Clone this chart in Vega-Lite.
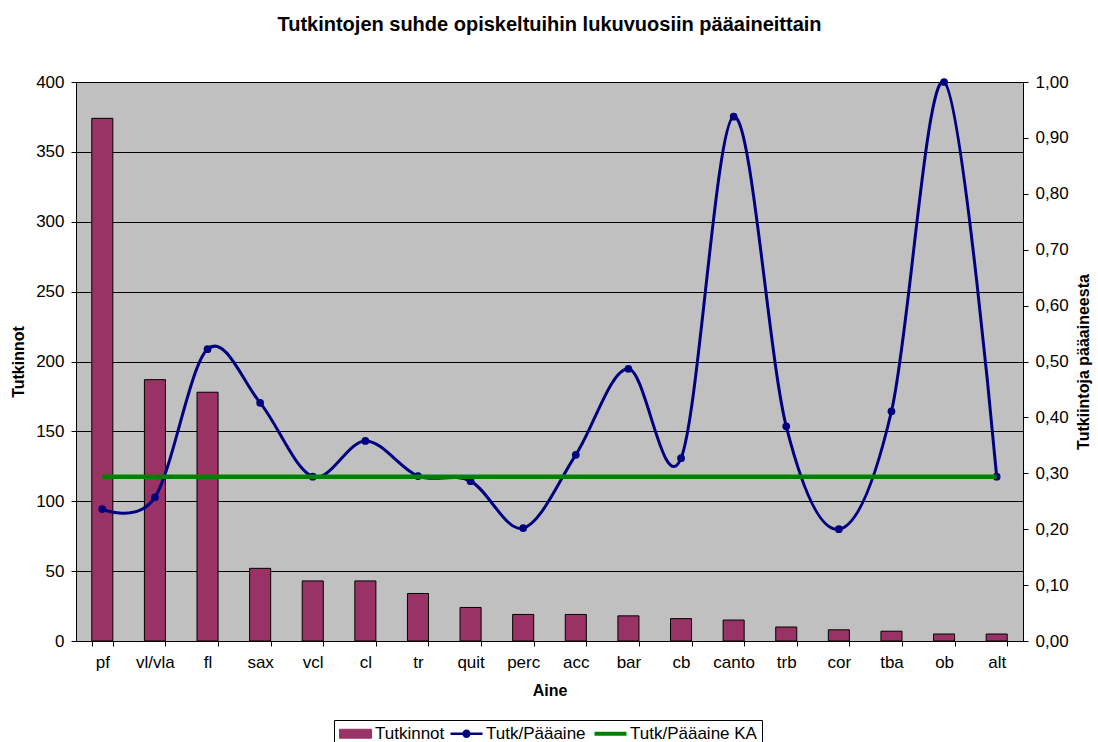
{
  "$schema": "https://vega.github.io/schema/vega-lite/v6.json",
  "width": 947,
  "height": 559,
  "autosize": {"type": "none"},
  "padding": {"left": 76, "top": 82, "right": 75, "bottom": 101},
  "background": "white",
  "title": {
    "text": "Tutkintojen suhde opiskeltuihin lukuvuosiin pääaineittain",
    "font": "Liberation Sans",
    "fontSize": 20,
    "fontWeight": "bold",
    "color": "black",
    "anchor": "middle",
    "frame": "group",
    "offset": 38
  },
  "config": {
    "font": "Liberation Sans",
    "view": {"fill": "#C0C0C0", "stroke": "#808080", "strokeWidth": 1},
    "axis": {
      "labelFont": "Liberation Sans",
      "labelFontSize": 17,
      "labelColor": "black",
      "titleFont": "Liberation Sans",
      "titleFontSize": 16,
      "titleFontWeight": "bold",
      "titleColor": "black",
      "domainColor": "black",
      "tickColor": "black",
      "tickSize": 5
    },
    "legend": {
      "orient": "none",
      "legendX": 258,
      "legendY": 638,
      "direction": "horizontal",
      "strokeColor": "black",
      "fillColor": "white",
      "padding": 5,
      "labelFont": "Liberation Sans",
      "labelFontSize": 17,
      "labelColor": "black",
      "labelOffset": 4,
      "columnPadding": 0,
      "symbolSize": 1024,
      "symbolStrokeWidth": 1
    }
  },
  "data": {
    "values": [
      {"aine": "pf", "tutkinnot": 374, "ratio": 0.236, "ka": 0.294},
      {"aine": "vl/vla", "tutkinnot": 187, "ratio": 0.257, "ka": 0.294},
      {"aine": "fl", "tutkinnot": 178, "ratio": 0.522, "ka": 0.294},
      {"aine": "sax", "tutkinnot": 52, "ratio": 0.426, "ka": 0.294},
      {"aine": "vcl", "tutkinnot": 43, "ratio": 0.294, "ka": 0.294},
      {"aine": "cl", "tutkinnot": 43, "ratio": 0.358, "ka": 0.294},
      {"aine": "tr", "tutkinnot": 34, "ratio": 0.295, "ka": 0.294},
      {"aine": "quit", "tutkinnot": 24, "ratio": 0.286, "ka": 0.294},
      {"aine": "perc", "tutkinnot": 19, "ratio": 0.202, "ka": 0.294},
      {"aine": "acc", "tutkinnot": 19, "ratio": 0.333, "ka": 0.294},
      {"aine": "bar", "tutkinnot": 18, "ratio": 0.487, "ka": 0.294},
      {"aine": "cb", "tutkinnot": 16, "ratio": 0.327, "ka": 0.294},
      {"aine": "canto", "tutkinnot": 15, "ratio": 0.938, "ka": 0.294},
      {"aine": "trb", "tutkinnot": 10, "ratio": 0.384, "ka": 0.294},
      {"aine": "cor", "tutkinnot": 8, "ratio": 0.2, "ka": 0.294},
      {"aine": "tba", "tutkinnot": 7, "ratio": 0.411, "ka": 0.294},
      {"aine": "ob", "tutkinnot": 5, "ratio": 1.0, "ka": 0.294},
      {"aine": "alt", "tutkinnot": 5, "ratio": 0.294, "ka": 0.294}
    ]
  },
  "encoding": {
    "x": {
      "field": "aine",
      "type": "nominal",
      "sort": null,
      "scale": {"paddingInner": 0.6, "paddingOuter": 0.3},
      "axis": {
        "title": "Aine",
        "labelAngle": 0,
        "tickBand": "extent",
        "labelPadding": 8,
        "titleX": 473.5,
        "titleY": 49,
        "titleBaseline": "middle",
        "titleAlign": "center",
        "grid": false
      }
    }
  },
  "layer": [
    {
      "mark": {"type": "bar", "stroke": "black", "strokeWidth": 1},
      "encoding": {
        "y": {
          "field": "tutkinnot",
          "type": "quantitative",
          "scale": {"domain": [0, 400], "nice": false},
          "axis": {
            "orient": "left",
            "title": "Tutkinnot",
            "values": [0, 50, 100, 150, 200, 250, 300, 350, 400],
            "grid": true,
            "gridColor": "black",
            "gridWidth": 1,
            "gridOpacity": 1,
            "labelPadding": 7,
            "titleAngle": 270,
            "titleX": -58,
            "titleY": 279.5,
            "titleAlign": "center",
            "titleBaseline": "middle"
          }
        },
        "color": {
          "datum": "Tutkinnot",
          "scale": {
            "domain": ["Tutkinnot", "Tutk/Pääaine", "Tutk/Pääaine KA"],
            "range": ["#993366", "#000080", "#008000"]
          },
          "legend": {
            "title": null,
            "encode": {
              "symbols": {
                "update": {
                  "x": {"value": 16.5},
                  "shape": {"signal": "datum.value === 'Tutkinnot' ? 'M-1,-0.28H1V0.28H-1Z' : (datum.value === 'Tutk/Pääaine' ? 'M-1,0H1M0.18,0A0.18,0.18,0,1,1,-0.18,0A0.18,0.18,0,1,1,0.18,0Z' : 'M-1,0H1')"},
                  "fill": {"signal": "datum.value === 'Tutkinnot' ? '#993366' : (datum.value === 'Tutk/Pääaine' ? '#000080' : 'transparent')"},
                  "stroke": {"signal": "datum.value === 'Tutkinnot' ? 'black' : (datum.value === 'Tutk/Pääaine' ? '#000080' : '#008000')"},
                  "strokeWidth": {"signal": "datum.value === 'Tutkinnot' ? 1 : (datum.value === 'Tutk/Pääaine' ? 2.5 : 4)"},
                  "size": {"value": 1024},
                  "opacity": {"value": 1}
                }
              },
              "labels": {"update": {"x": {"value": 36}}}
            }
          }
        }
      }
    },
    {
      "layer": [
        {
          "mark": {"type": "line", "interpolate": "cardinal", "tension": 0, "strokeWidth": 3},
          "encoding": {
            "y": {
              "field": "ratio",
              "type": "quantitative",
              "scale": {"domain": [0, 1], "nice": false},
              "axis": {
                "orient": "right",
                "title": "Tutkiintoja pääaineesta",
                "values": [0, 0.1, 0.2, 0.3, 0.4, 0.5, 0.6, 0.7, 0.8, 0.9, 1.0],
                "labelExpr": "replace(format(datum.value, '.2f'), '.', ',')",
                "grid": false,
                "labelPadding": 7,
                "titleAngle": 270,
                "titleX": 60,
                "titleY": 279.5,
                "titleAlign": "center",
                "titleBaseline": "middle"
              }
            },
            "color": {
              "datum": "Tutk/Pääaine",
              "legend": {
                "title": null,
                "encode": {
                  "symbols": {
                    "update": {
                      "x": {"value": 16.5},
                      "shape": {"signal": "datum.value === 'Tutkinnot' ? 'M-1,-0.28H1V0.28H-1Z' : (datum.value === 'Tutk/Pääaine' ? 'M-1,0H1M0.18,0A0.18,0.18,0,1,1,-0.18,0A0.18,0.18,0,1,1,0.18,0Z' : 'M-1,0H1')"},
                      "fill": {"signal": "datum.value === 'Tutkinnot' ? '#993366' : (datum.value === 'Tutk/Pääaine' ? '#000080' : 'transparent')"},
                      "stroke": {"signal": "datum.value === 'Tutkinnot' ? 'black' : (datum.value === 'Tutk/Pääaine' ? '#000080' : '#008000')"},
                      "strokeWidth": {"signal": "datum.value === 'Tutkinnot' ? 1 : (datum.value === 'Tutk/Pääaine' ? 2.5 : 4)"},
                      "size": {"value": 1024},
                      "opacity": {"value": 1}
                    }
                  },
                  "labels": {"update": {"x": {"value": 36}}}
                }
              }
            }
          }
        },
        {
          "mark": {"type": "point", "filled": true, "size": 60, "opacity": 1},
          "encoding": {
            "y": {
              "field": "ratio",
              "type": "quantitative",
              "scale": {"domain": [0, 1], "nice": false},
              "axis": {
                "orient": "right",
                "title": "Tutkiintoja pääaineesta",
                "values": [0, 0.1, 0.2, 0.3, 0.4, 0.5, 0.6, 0.7, 0.8, 0.9, 1.0],
                "labelExpr": "replace(format(datum.value, '.2f'), '.', ',')",
                "grid": false,
                "labelPadding": 7,
                "titleAngle": 270,
                "titleX": 60,
                "titleY": 279.5,
                "titleAlign": "center",
                "titleBaseline": "middle"
              }
            },
            "color": {
              "datum": "Tutk/Pääaine",
              "legend": {
                "title": null,
                "encode": {
                  "symbols": {
                    "update": {
                      "x": {"value": 16.5},
                      "shape": {"signal": "datum.value === 'Tutkinnot' ? 'M-1,-0.28H1V0.28H-1Z' : (datum.value === 'Tutk/Pääaine' ? 'M-1,0H1M0.18,0A0.18,0.18,0,1,1,-0.18,0A0.18,0.18,0,1,1,0.18,0Z' : 'M-1,0H1')"},
                      "fill": {"signal": "datum.value === 'Tutkinnot' ? '#993366' : (datum.value === 'Tutk/Pääaine' ? '#000080' : 'transparent')"},
                      "stroke": {"signal": "datum.value === 'Tutkinnot' ? 'black' : (datum.value === 'Tutk/Pääaine' ? '#000080' : '#008000')"},
                      "strokeWidth": {"signal": "datum.value === 'Tutkinnot' ? 1 : (datum.value === 'Tutk/Pääaine' ? 2.5 : 4)"},
                      "size": {"value": 1024},
                      "opacity": {"value": 1}
                    }
                  },
                  "labels": {"update": {"x": {"value": 36}}}
                }
              }
            }
          }
        },
        {
          "mark": {"type": "line", "strokeWidth": 4.5},
          "encoding": {
            "y": {
              "field": "ka",
              "type": "quantitative",
              "scale": {"domain": [0, 1], "nice": false},
              "axis": {
                "orient": "right",
                "title": "Tutkiintoja pääaineesta",
                "values": [0, 0.1, 0.2, 0.3, 0.4, 0.5, 0.6, 0.7, 0.8, 0.9, 1.0],
                "labelExpr": "replace(format(datum.value, '.2f'), '.', ',')",
                "grid": false,
                "labelPadding": 7,
                "titleAngle": 270,
                "titleX": 60,
                "titleY": 279.5,
                "titleAlign": "center",
                "titleBaseline": "middle"
              }
            },
            "color": {
              "datum": "Tutk/Pääaine KA",
              "legend": {
                "title": null,
                "encode": {
                  "symbols": {
                    "update": {
                      "x": {"value": 16.5},
                      "shape": {"signal": "datum.value === 'Tutkinnot' ? 'M-1,-0.28H1V0.28H-1Z' : (datum.value === 'Tutk/Pääaine' ? 'M-1,0H1M0.18,0A0.18,0.18,0,1,1,-0.18,0A0.18,0.18,0,1,1,0.18,0Z' : 'M-1,0H1')"},
                      "fill": {"signal": "datum.value === 'Tutkinnot' ? '#993366' : (datum.value === 'Tutk/Pääaine' ? '#000080' : 'transparent')"},
                      "stroke": {"signal": "datum.value === 'Tutkinnot' ? 'black' : (datum.value === 'Tutk/Pääaine' ? '#000080' : '#008000')"},
                      "strokeWidth": {"signal": "datum.value === 'Tutkinnot' ? 1 : (datum.value === 'Tutk/Pääaine' ? 2.5 : 4)"},
                      "size": {"value": 1024},
                      "opacity": {"value": 1}
                    }
                  },
                  "labels": {"update": {"x": {"value": 36}}}
                }
              }
            }
          }
        }
      ]
    }
  ],
  "resolve": {"scale": {"y": "independent"}}
}
